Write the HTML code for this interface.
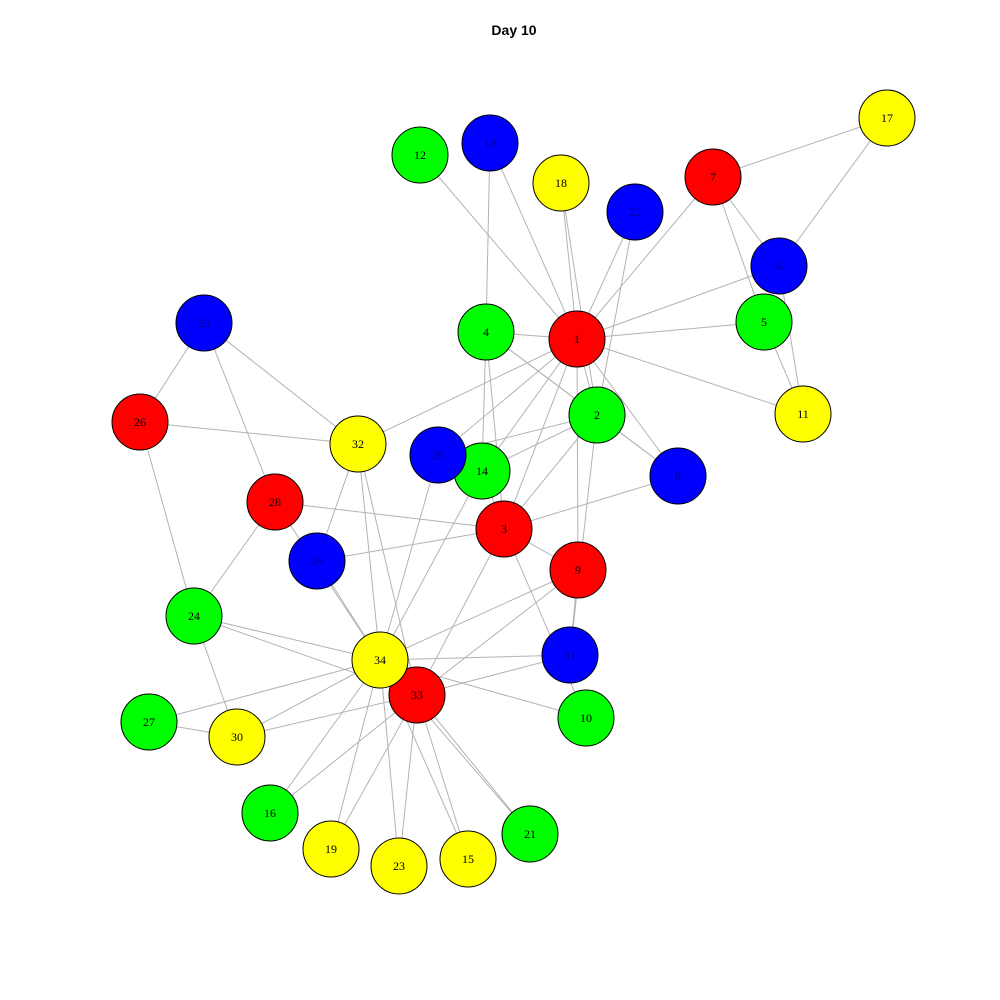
<!DOCTYPE html>
<html><head><meta charset="utf-8"><style>
html,body{margin:0;padding:0;background:#fff;}
svg{display:block;}
</style></head><body>
<svg id="chart" width="1000" height="1000" viewBox="0 0 1000 1000">
<rect width="1000" height="1000" fill="#fff"/>
<text x="514" y="35" text-anchor="middle" font-family="Liberation Sans, sans-serif" font-weight="bold" font-size="14">Day 10</text>
<g id="edges"></g>
<g id="nodes"></g>
</svg>
<script>
const nodeIds = [1,2,3,4,5,6,7,8,9,10,11,12,13,14,15,16,17,18,19,20,21,22,23,24,25,26,27,28,29,30,31,32,33,34];
const nodeX = [577,597,504,486,764,779,713,678,578,586,803,420,490,482,468,270,887,561,331,438,530,635,399,194,204,140,149,275,317,237,570,358,417,380];
const nodeY = [339,415,529,332,322,266,177,476,570,718,414,155,143,471,859,813,118,183,849,455,834,212,866,616,323,422,722,502,561,737,655,444,695,660];
const nodeGroup = ['r','g','r','g','g','b','r','b','r','g','y','g','b','g','y','g','y','y','y','b','g','b','y','g','b','r','g','r','b','y','b','y','r','y'];
const edgeList = [[1,2],[1,3],[1,4],[1,5],[1,6],[1,7],[1,8],[1,9],[1,11],[1,12],[1,13],[1,14],[1,18],[1,20],[1,22],[1,32],
[2,3],[2,4],[2,8],[2,14],[2,18],[2,20],[2,22],[2,31],
[3,4],[3,8],[3,9],[3,10],[3,14],[3,28],[3,29],[3,33],
[4,8],[4,13],[4,14],[5,7],[5,11],[6,7],[6,11],[6,17],[7,17],
[9,31],[9,33],[9,34],[10,34],[14,34],[15,33],[15,34],[16,33],[16,34],[19,33],[19,34],[20,34],[21,33],[21,34],[23,33],[23,34],
[24,26],[24,28],[24,30],[24,33],[24,34],[25,26],[25,28],[25,32],[26,32],[27,30],[27,34],[28,34],[29,32],[29,34],[30,33],[30,34],[31,33],[31,34],[32,33],[32,34],[33,34]];
</script>
<script>
const NS='http://www.w3.org/2000/svg';
const colors={r:'#ff0000',g:'#00ff00',b:'#0000ff',y:'#ffff00'};
const eg=document.getElementById('edges'), ng=document.getElementById('nodes');
const px=id=>nodeX[nodeIds.indexOf(id)], py=id=>nodeY[nodeIds.indexOf(id)];
edgeList.forEach(([a,b])=>{
  const l=document.createElementNS(NS,'line');
  l.setAttribute('x1',px(a));l.setAttribute('y1',py(a));l.setAttribute('x2',px(b));l.setAttribute('y2',py(b));
  l.setAttribute('stroke','#b3b3b3');l.setAttribute('stroke-width','1');
  
  
  eg.appendChild(l);
});
nodeIds.forEach((id,i)=>{
  const g=document.createElementNS(NS,'g');
  
  
  const c=document.createElementNS(NS,'circle');
  c.setAttribute('cx',nodeX[i]);c.setAttribute('cy',nodeY[i]);c.setAttribute('r',28);
  c.setAttribute('fill',colors[nodeGroup[i]]);c.setAttribute('stroke','#000');c.setAttribute('stroke-width','1');
  
  
  const t=document.createElementNS(NS,'text');
  t.setAttribute('x',nodeX[i]);t.setAttribute('y',nodeY[i]+4);t.setAttribute('text-anchor','middle');
  t.setAttribute('font-family','Liberation Serif, serif');t.setAttribute('font-size','12');
  t.setAttribute('fill',nodeGroup[i]==='b'?'#00008b':'#000');
  t.textContent=id;
  
  
  g.appendChild(c);g.appendChild(t);ng.appendChild(g);
});
</script>
</body></html>
